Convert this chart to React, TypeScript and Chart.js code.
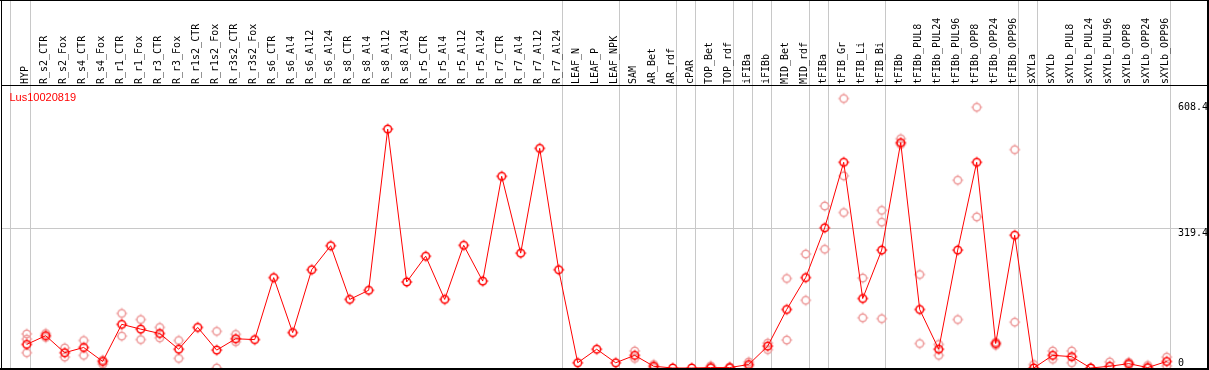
import React, { useEffect, useRef } from "react";
import { Chart, registerables } from "chart.js";

Chart.register(...registerables);

const categories = [
  "HYP", "R_s2_CTR", "R_s2_Fox", "R_s4_CTR", "R_s4_Fox", "R_r1_CTR", "R_r1_Fox", "R_r3_CTR", "R_r3_Fox",
  "R_r1s2_CTR", "R_r1s2_Fox", "R_r3s2_CTR", "R_r3s2_Fox",
  "R_s6_CTR", "R_s6_Al4", "R_s6_Al12", "R_s6_Al24",
  "R_s8_CTR", "R_s8_Al4", "R_s8_Al12", "R_s8_Al24",
  "R_r5_CTR", "R_r5_Al4", "R_r5_Al12", "R_r5_Al24",
  "R_r7_CTR", "R_r7_Al4", "R_r7_Al12", "R_r7_Al24",
  "LEAF_N", "LEAF_P", "LEAF_NPK", "SAM", "AR_Bet", "AR_rdf", "cPAR", "TOP_Bet", "TOP_rdf",
  "iFIBa", "iFIBb", "MID_Bet", "MID_rdf", "tFIBa", "tFIB_Gr", "tFIB_Li", "tFIB_Bi", "tFIBb",
  "tFIBb_PUL8", "tFIBb_PUL24", "tFIBb_PUL96", "tFIBb_OPP8", "tFIBb_OPP24", "tFIBb_OPP96",
  "sXYLa", "sXYLb", "sXYLb_PUL8", "sXYLb_PUL24", "sXYLb_PUL96", "sXYLb_OPP8", "sXYLb_OPP24", "sXYLb_OPP96",
];

const means = [
  54, 74, 35, 47, 15, 100, 89, 79, 43,
  93, 41, 67, 65,
  207, 81, 225, 280,
  157, 178, 547, 197,
  256, 157, 281, 199,
  439, 263, 503, 225,
  12, 43, 12, 29, 4, 0, 0, 1, 1,
  8, 50, 134, 207, 321, 471, 159, 270, 516,
  134, 43, 270, 471, 56, 304,
  0, 29, 26, 0, 4, 10, 1, 15,
];

const repA = [
  78, 79, 46, 63, 18, 125, 111, 93, 63,
  null, 84, 77, null,
  null, null, null, null,
  null, null, null, null,
  null, null, null, null,
  null, null, null, null,
  null, null, null, 39, 8, null, null, 5, 2,
  14, 57, 205, 261, 371, 617, 206, 361, 525,
  214, 54, 430, 597, 59, 500,
  8, 39, 39, 0, 14, 13, 6, 25,
];

const repB = [
  35, 70, 25, 29, 9, 73, 65, 69, 22,
  null, 0, 60, null,
  null, null, null, null,
  null, null, null, null,
  null, null, null, null,
  null, null, null, null,
  null, null, null, 22, 1, null, null, 0, 0,
  4, 42, 64, 155, 272, 440, 115, 334, 512,
  56, 29, 111, 346, 52, 105,
  null, 20, 12, null, null, 7, 0, 5,
];

const repC = [
  66, null, null, null, null, null, null, null, null,
  null, null, null, null,
  null, null, null, null,
  null, null, null, null,
  null, null, null, null,
  null, null, null, null,
  null, null, null, null, null, null, null, null, null,
  null, null, null, null, null, 356, null, 113, null,
  null, null, null, null, null, null,
  null, null, null, null, null, null, null, null,
];

// indices of categories after which a group separator is drawn
const separatorAfter = [-1, 0, 28, 31, 34, 35, 37, 38, 39, 41, 42, 45, 52, 53, 60];
const gridValues = [319.4];
const yTickValues = [608.4, 319.4, 0];
const yTickLabels = ["608.4", "319.4", "0"];
const geneLabel = "Lus10020819";

const X_MIN = -1.4053;
const X_MAX = X_MIN + 1209 / 19;
const Y_MAX = 645.7;

function makeMarker(color: string): HTMLCanvasElement {
  const c = document.createElement("canvas");
  c.width = 14;
  c.height = 14;
  const g = c.getContext("2d")!;
  g.strokeStyle = color;
  g.lineWidth = 1.5;
  g.beginPath();
  g.arc(7, 7, 3.8, 0, Math.PI * 2);
  g.stroke();
  g.fillStyle = color;
  g.fillRect(6.5, 1.5, 1, 1.5);
  g.fillRect(6.5, 11, 1, 1.5);
  g.fillRect(1.5, 6.5, 1.5, 1);
  g.fillRect(11, 6.5, 1.5, 1);
  return c;
}

export default function App() {
  const ref = useRef<HTMLCanvasElement | null>(null);

  useEffect(() => {
    document.body.style.margin = "0";
    const canvas = ref.current!;
    const redMarker = makeMarker("#ff0000");
    const pinkMarker = makeMarker("#ee9c9c");

    const repPoints: { x: number; y: number }[] = [];
    [repA, repB, repC].forEach((arr) => {
      arr.forEach((v, i) => {
        if (v !== null && v !== undefined) repPoints.push({ x: i, y: v as number });
      });
    });

    const frame = {
      id: "frame",
      beforeDatasetsDraw(chart: any) {
        const ctx = chart.ctx;
        const xs = chart.scales.x;
        const ys = chart.scales.y;
        ctx.save();
        ctx.fillStyle = "#c8c8c8";
        separatorAfter.forEach((i) => {
          let px = Math.floor(xs.getPixelForValue(i) + 3.7);
          if (i < 0) px -= 1;
          ctx.fillRect(px, 0, 1, 368);
        });
        gridValues.forEach((v) => {
          const py = Math.floor(ys.getPixelForValue(v));
          ctx.fillRect(1, py, 1207, 1);
        });
        ctx.restore();
      },
      afterDraw(chart: any) {
        const ctx = chart.ctx;
        const xs = chart.scales.x;
        const ys = chart.scales.y;
        ctx.save();
        ctx.fillStyle = "#000000";
        ctx.fillRect(0, 0, 1209, 1);
        ctx.fillRect(1, 0, 1, 370);
        ctx.fillRect(1207, 0, 2, 370);
        ctx.fillRect(0, 368, 1209, 2);
        ctx.fillRect(1, 85, 1207, 1);

        ctx.font = '10px "DejaVu Sans Mono", monospace';
        ctx.textAlign = "left";
        ctx.textBaseline = "alphabetic";
        categories.forEach((c, i) => {
          const px = xs.getPixelForValue(i);
          ctx.save();
          ctx.translate(px + 1.5, 84);
          ctx.rotate(-Math.PI / 2);
          ctx.fillText(c, 0, 0);
          ctx.restore();
        });

        yTickValues.forEach((v, k) => {
          const py = ys.getPixelForValue(v);
          const base = v === 0 ? py - 2.4 : py + 7.3;
          ctx.fillText(yTickLabels[k], 1178, base);
        });

        ctx.fillStyle = "#ff0000";
        ctx.font = '11px "Liberation Sans", Arial, sans-serif';
        ctx.fillText(geneLabel, 9.5, 100.5);
        ctx.restore();
      },
    };

    const chart = new Chart(canvas, {
      type: "line",
      data: {
        datasets: [
          {
            label: "mean",
            data: means.map((v, i) => ({ x: i, y: v })),
            borderColor: "#ff0000",
            borderWidth: 1,
            pointStyle: redMarker as any,
            pointRadius: 5,
            tension: 0,
            order: 1,
            clip: false as any,
          },
          {
            label: "replicates",
            data: repPoints,
            showLine: false,
            pointStyle: pinkMarker as any,
            pointRadius: 5,
            order: 2,
            clip: false as any,
          },
        ],
      },
      options: {
        animation: false,
        responsive: false,
        events: [],
        layout: { autoPadding: false, padding: { left: 0, right: 0, top: 86, bottom: 2 } },
        scales: {
          x: { type: "linear", min: X_MIN, max: X_MAX, display: false },
          y: { type: "linear", min: 0, max: Y_MAX, display: false },
        },
        plugins: { legend: { display: false }, tooltip: { enabled: false } },
      },
      plugins: [frame],
    });

    return () => chart.destroy();
  }, []);

  return <canvas ref={ref} width={1209} height={370} style={{ display: "block" }} />;
}
